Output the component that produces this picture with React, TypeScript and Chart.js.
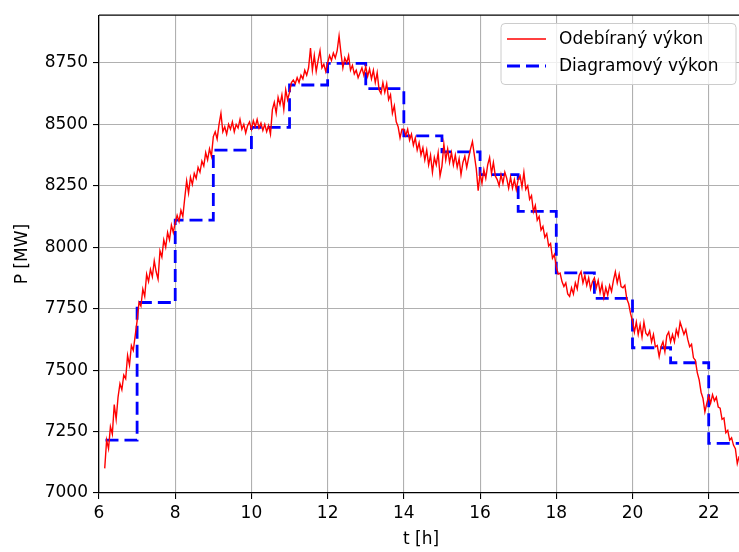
import { useEffect, useRef } from 'react';
import { Chart, registerables } from 'chart.js';

Chart.register(...registerables);

// Measured load, sampled every 3 minutes starting at 6:09
const LOAD_START_H = 6.15;
const LOAD_STEP_H = 0.05;

const load06 = [7100, 7215, 7180, 7270, 7240, 7360, 7300, 7390, 7445, 7420, 7480, 7465, 7560, 7520, 7600, 7580, 7640];
const load07 = [7700, 7775, 7760, 7830, 7800, 7890, 7860, 7910, 7880, 7945, 7900, 7870, 7985, 7960, 8030, 8000, 8060, 8030, 8090, 8060];
const load08 = [8100, 8130, 8105, 8150, 8125, 8200, 8270, 8220, 8285, 8255, 8300, 8280, 8325, 8305, 8350, 8330, 8385, 8355, 8400, 8370];
const load09 = [8450, 8470, 8440, 8500, 8545, 8470, 8490, 8460, 8500, 8480, 8510, 8470, 8500, 8485, 8520, 8480, 8500, 8465, 8495, 8510];
const load10 = [8480, 8515, 8490, 8520, 8485, 8505, 8475, 8500, 8470, 8495, 8460, 8560, 8590, 8545, 8610, 8580, 8620, 8560, 8640, 8600];
const load11 = [8630, 8670, 8680, 8665, 8690, 8670, 8700, 8685, 8720, 8700, 8730, 8810, 8720, 8780, 8715, 8760, 8800, 8730, 8745, 8715];
const load12 = [8750, 8780, 8760, 8790, 8770, 8800, 8860, 8790, 8730, 8770, 8750, 8780, 8720, 8740, 8705, 8720, 8690, 8710, 8730, 8700];
const load13 = [8735, 8695, 8725, 8685, 8720, 8670, 8710, 8640, 8625, 8670, 8630, 8665, 8600, 8620, 8545, 8575, 8510, 8490, 8445, 8480];
const load14 = [8480, 8455, 8480, 8435, 8460, 8415, 8445, 8395, 8425, 8375, 8405, 8355, 8395, 8335, 8375, 8305, 8365, 8335, 8385, 8290];
const load15 = [8330, 8420, 8355, 8400, 8345, 8385, 8335, 8375, 8325, 8360, 8295, 8345, 8370, 8325, 8365, 8400, 8430, 8375, 8320, 8230];
const load16 = [8300, 8260, 8315, 8280, 8335, 8365, 8300, 8345, 8290, 8275, 8250, 8295, 8260, 8305, 8280, 8240, 8285, 8240, 8275, 8235];
const load17 = [8275, 8290, 8245, 8305, 8235, 8250, 8195, 8210, 8145, 8170, 8110, 8125, 8070, 8085, 8040, 8055, 8005, 8015, 7955, 7970];
const load18 = [7920, 7890, 7895, 7860, 7840, 7855, 7810, 7800, 7835, 7810, 7855, 7830, 7885, 7900, 7855, 7885, 7845, 7875, 7830, 7860];
const load19 = [7875, 7835, 7865, 7815, 7850, 7795, 7835, 7805, 7845, 7820, 7865, 7900, 7855, 7890, 7840, 7835, 7845, 7790, 7770, 7730];
const load20 = [7700, 7655, 7695, 7645, 7685, 7635, 7695, 7650, 7640, 7660, 7615, 7645, 7595, 7600, 7555, 7595, 7615, 7575, 7640, 7655];
const load21 = [7615, 7645, 7615, 7665, 7640, 7695, 7670, 7645, 7665, 7625, 7595, 7605, 7550, 7540, 7490, 7460, 7410, 7385, 7330, 7365];
const load22 = [7395, 7365, 7400, 7375, 7390, 7350, 7345, 7300, 7305, 7245, 7255, 7215, 7225, 7195, 7180, 7120, 7150];

// Scheduled (diagram) power: level starts at each time, held until the next one
const planTimes = [6.17, 7, 8, 9, 10, 11, 12, 13, 14, 15, 16, 17, 18, 19, 20, 21, 22, 22.8];
const planValues = [7215, 7775, 8110, 8395, 8488, 8660, 8748, 8645, 8453, 8388, 8295, 8146, 7896, 7792, 7591, 7530, 7202, 7202];

const xTicks = [6, 8, 10, 12, 14, 16, 18, 20, 22];
const yTicks = [7000, 7250, 7500, 7750, 8000, 8250, 8500, 8750];

const FONT = 'DejaVu Sans';
const FONT_SIZE = 17;

const loadSeries = [load06, load07, load08, load09, load10, load11, load12, load13, load14, load15, load16, load17, load18, load19, load20, load21, load22].flat();

const frameAndLegend = {
  id: 'frameAndLegend',
  afterDraw(chart: any) {
    const { ctx, chartArea } = chart;
    ctx.save();
    // top spine
    ctx.strokeStyle = '#000';
    ctx.lineWidth = 1.3;
    ctx.beginPath();
    ctx.moveTo(chartArea.left, chartArea.top);
    ctx.lineTo(chartArea.right, chartArea.top);
    ctx.stroke();

    // legend box
    const bx = 501, by = 23.5, bw = 235, bh = 61, r = 4;
    ctx.beginPath();
    ctx.moveTo(bx + r, by);
    ctx.lineTo(bx + bw - r, by);
    ctx.quadraticCurveTo(bx + bw, by, bx + bw, by + r);
    ctx.lineTo(bx + bw, by + bh - r);
    ctx.quadraticCurveTo(bx + bw, by + bh, bx + bw - r, by + bh);
    ctx.lineTo(bx + r, by + bh);
    ctx.quadraticCurveTo(bx, by + bh, bx, by + bh - r);
    ctx.lineTo(bx, by + r);
    ctx.quadraticCurveTo(bx, by, bx + r, by);
    ctx.closePath();
    ctx.fillStyle = 'rgba(255,255,255,0.8)';
    ctx.fill();
    ctx.strokeStyle = '#cccccc';
    ctx.lineWidth = 1;
    ctx.stroke();

    chart.data.datasets.forEach((ds: any, i: number) => {
      const y = 39 + i * 27;
      ctx.beginPath();
      ctx.strokeStyle = ds.borderColor;
      ctx.lineWidth = ds.borderWidth;
      ctx.setLineDash(ds.borderDash || []);
      ctx.moveTo(507, y);
      ctx.lineTo(546, y);
      ctx.stroke();
      ctx.setLineDash([]);
      ctx.fillStyle = '#000';
      ctx.font = `${FONT_SIZE}px "${FONT}"`;
      ctx.textBaseline = 'middle';
      ctx.textAlign = 'left';
      ctx.fillText(ds.label, 559, y + 1);
    });
    ctx.restore();
  },
};

export default function App() {
  const canvasRef = useRef<HTMLCanvasElement | null>(null);

  useEffect(() => {
    const canvas = canvasRef.current;
    if (!canvas) return;

    const loadPoints = loadSeries.map((v, i) => ({
      x: Math.round((LOAD_START_H + i * LOAD_STEP_H) * 1000) / 1000,
      y: v,
    }));
    const planPoints = planTimes.map((t, i) => ({ x: t, y: planValues[i] }));

    const chart = new Chart(canvas, {
      type: 'line',
      data: {
        datasets: [
          {
            label: 'Odebíraný výkon',
            data: loadPoints,
            borderColor: '#ff0000',
            borderWidth: 1.4,
            pointRadius: 0,
            tension: 0,
          },
          {
            label: 'Diagramový výkon',
            data: planPoints,
            borderColor: '#0000ff',
            borderWidth: 2.8,
            borderDash: [13, 6],
            pointRadius: 0,
            stepped: 'before',
          },
        ],
      },
      options: {
        responsive: false,
        animation: false,
        devicePixelRatio: 1,
        layout: { padding: { left: 0, top: 14, right: 17, bottom: 0 } },
        plugins: {
          legend: { display: false },
          tooltip: { enabled: false },
        },
        scales: {
          x: {
            type: 'linear',
            min: 6,
            max: 22.9,
            afterFit: (s: any) => { s.height = 59; },
            afterBuildTicks: (s: any) => { s.ticks = xTicks.map((v) => ({ value: v })); },
            grid: { color: '#b0b0b0', lineWidth: 1.1, tickColor: '#000', tickLength: 6 },
            border: { color: '#000', width: 1.3 },
            ticks: {
              color: '#000',
              padding: 4,
              maxRotation: 0,
              font: { family: FONT, size: FONT_SIZE },
              callback: (v: any) => String(v),
            },
            title: {
              display: true,
              text: 't [h]',
              color: '#000',
              font: { family: FONT, size: FONT_SIZE },
              padding: { top: 0, bottom: 2 },
            },
          },
          y: {
            type: 'linear',
            min: 7000,
            max: 8944,
            afterFit: (s: any) => { s.width = 99; },
            afterBuildTicks: (s: any) => { s.ticks = yTicks.map((v) => ({ value: v })); },
            grid: { color: '#b0b0b0', lineWidth: 1.1, tickColor: '#000', tickLength: 6 },
            border: { color: '#000', width: 1.3 },
            ticks: {
              color: '#000',
              padding: 5,
              font: { family: FONT, size: FONT_SIZE },
              callback: (v: any) => String(v),
            },
            title: {
              display: true,
              text: 'P [MW]',
              color: '#000',
              font: { family: FONT, size: FONT_SIZE },
              padding: { top: 12, bottom: 0 },
            },
          },
        },
      },
      plugins: [frameAndLegend],
    });

    return () => chart.destroy();
  }, []);

  return (
    <div style={{ position: 'fixed', left: 0, top: 0, width: 739, height: 552, overflow: 'hidden', background: '#fff' }}>
      <canvas ref={canvasRef} width={760} height={552} style={{ width: 760, height: 552, display: 'block' }} />
    </div>
  );
}
